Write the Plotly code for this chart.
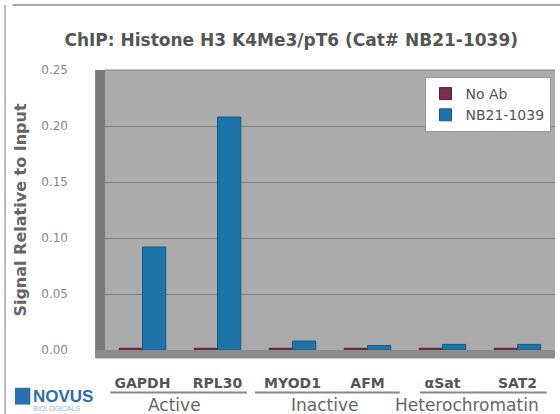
import plotly.graph_objects as go

categories = ["GAPDH", "RPL30", "MYOD1", "AFM", "αSat", "SAT2"]
groups = ["Active", "Inactive", "Heterochromatin"]
no_ab = [0.0015, 0.0015, 0.0015, 0.0015, 0.0015, 0.0015]
nb21 = [0.092, 0.208, 0.008, 0.004, 0.005, 0.005]
y_ticks = [0.00, 0.05, 0.10, 0.15, 0.20, 0.25]

FONT = "DejaVu Sans"
fig = go.Figure()
fig.add_trace(go.Bar(x=categories, y=no_ab, name="No Ab",
                     marker=dict(color="#7d2f4f", line=dict(color="#5a1f38", width=1))))
fig.add_trace(go.Bar(x=categories, y=nb21, name="NB21-1039",
                     marker=dict(color="#1c74a8", line=dict(color="#145a85", width=1))))

fig.update_layout(
    width=560, height=414,
    margin=dict(l=105, r=5, t=70, b=64),
    paper_bgcolor="white",
    plot_bgcolor="#ababab",
    barmode="group", bargap=0.38, bargroupgap=0,
    font=dict(family=FONT, color="#555555"),
    title=dict(text="<b>ChIP: Histone H3 K4Me3/pT6 (Cat# NB21-1039)</b>",
               x=0.52, xanchor="center", y=1 - 40 / 414, yanchor="middle",
               font=dict(size=17, color="#555555", family=FONT)),
    legend=dict(x=0.71, y=0.975, xanchor="left", yanchor="top",
                bgcolor="white", bordercolor="#999999", borderwidth=1,
                font=dict(size=14, color="#555555", family=FONT),
                itemwidth=30, tracegroupgap=0),
    showlegend=True,
)
fig.update_xaxes(
    tickmode="array", tickvals=categories,
    ticktext=["<b>%s</b>" % c for c in categories],
    tickfont=dict(size=14, color="#555555", family=FONT),
    ticks="", ticklabelstandoff=23, showgrid=False, showline=False, automargin=False,
)
fig.update_yaxes(
    range=[0, 0.25], tickvals=y_ticks, ticktext=["%.2f" % v for v in y_ticks],
    tickfont=dict(size=12, color="#888888", family=FONT),
    showgrid=True, gridcolor="#7f7f7f", gridwidth=1,
    zeroline=False, showline=False, ticks="", ticklabelstandoff=36, automargin=False,
    title=dict(text="<b>Signal Relative to Input</b>", standoff=10,
               font=dict(size=16, color="#666666", family=FONT)),
)

# 3D-like wall and floor
fig.add_shape(type="rect", xref="paper", yref="paper", x0=-0.022, x1=0.0, y0=-0.02, y1=1.0,
              fillcolor="#7a7a7a", line=dict(width=0), layer="below")
fig.add_shape(type="rect", xref="paper", yref="paper", x0=-0.022, x1=1.0, y0=-0.03, y1=0.0,
              fillcolor="#8c8c8c", line=dict(width=0), layer="below")
fig.add_shape(type="line", xref="paper", yref="paper", x0=0, x1=1, y0=1, y1=1,
              line=dict(color="#7f7f7f", width=1))

# Group underlines and labels
spans = [(-0.43, 1.39), (1.5, 3.43), (3.7, 5.39)]
label_x = [0.42, 2.43, 4.32]
for (a, b), lx, g in zip(spans, label_x, groups):
    fig.add_shape(type="line", xref="x", yref="paper", x0=a, x1=b, y0=-0.152, y1=-0.152,
                  line=dict(color="#888888", width=2))
    fig.add_annotation(x=lx, y=-0.196, xref="x", yref="paper", text=g,
                       showarrow=False, yanchor="middle",
                       font=dict(size=17, color="#666666", family=FONT))

# Frame lines of the image
fig.add_shape(type="line", xref="paper", yref="paper", x0=-0.205, x1=1.02, y0=1.232, y1=1.232,
              line=dict(color="#a8a8a8", width=2))
fig.add_shape(type="line", xref="paper", yref="paper", x0=-0.222, x1=-0.222, y0=-0.25, y1=1.232,
              line=dict(color="#b8b8b8", width=2))

# Logo
fig.add_shape(type="rect", xref="paper", yref="paper", x0=-0.2, x1=-0.166, y0=-0.195, y1=-0.135,
              fillcolor="#2a6fb0", line=dict(width=0))
fig.add_annotation(x=-0.164, y=-0.165, xref="paper", yref="paper", text="<b>NOVUS</b>",
                   showarrow=False, xanchor="left", yanchor="middle",
                   font=dict(size=17, color="#2a6fb0", family="Liberation Sans"))
fig.add_annotation(x=-0.164, y=-0.21, xref="paper", yref="paper", text="BIOLOGICALS",
                   showarrow=False, xanchor="left", yanchor="middle",
                   font=dict(size=7, color="#9ab4d4", family="Liberation Sans"))

fig.write_html("out.html", config={"displayModeBar": False},
               post_script="document.body.style.margin='0';")
